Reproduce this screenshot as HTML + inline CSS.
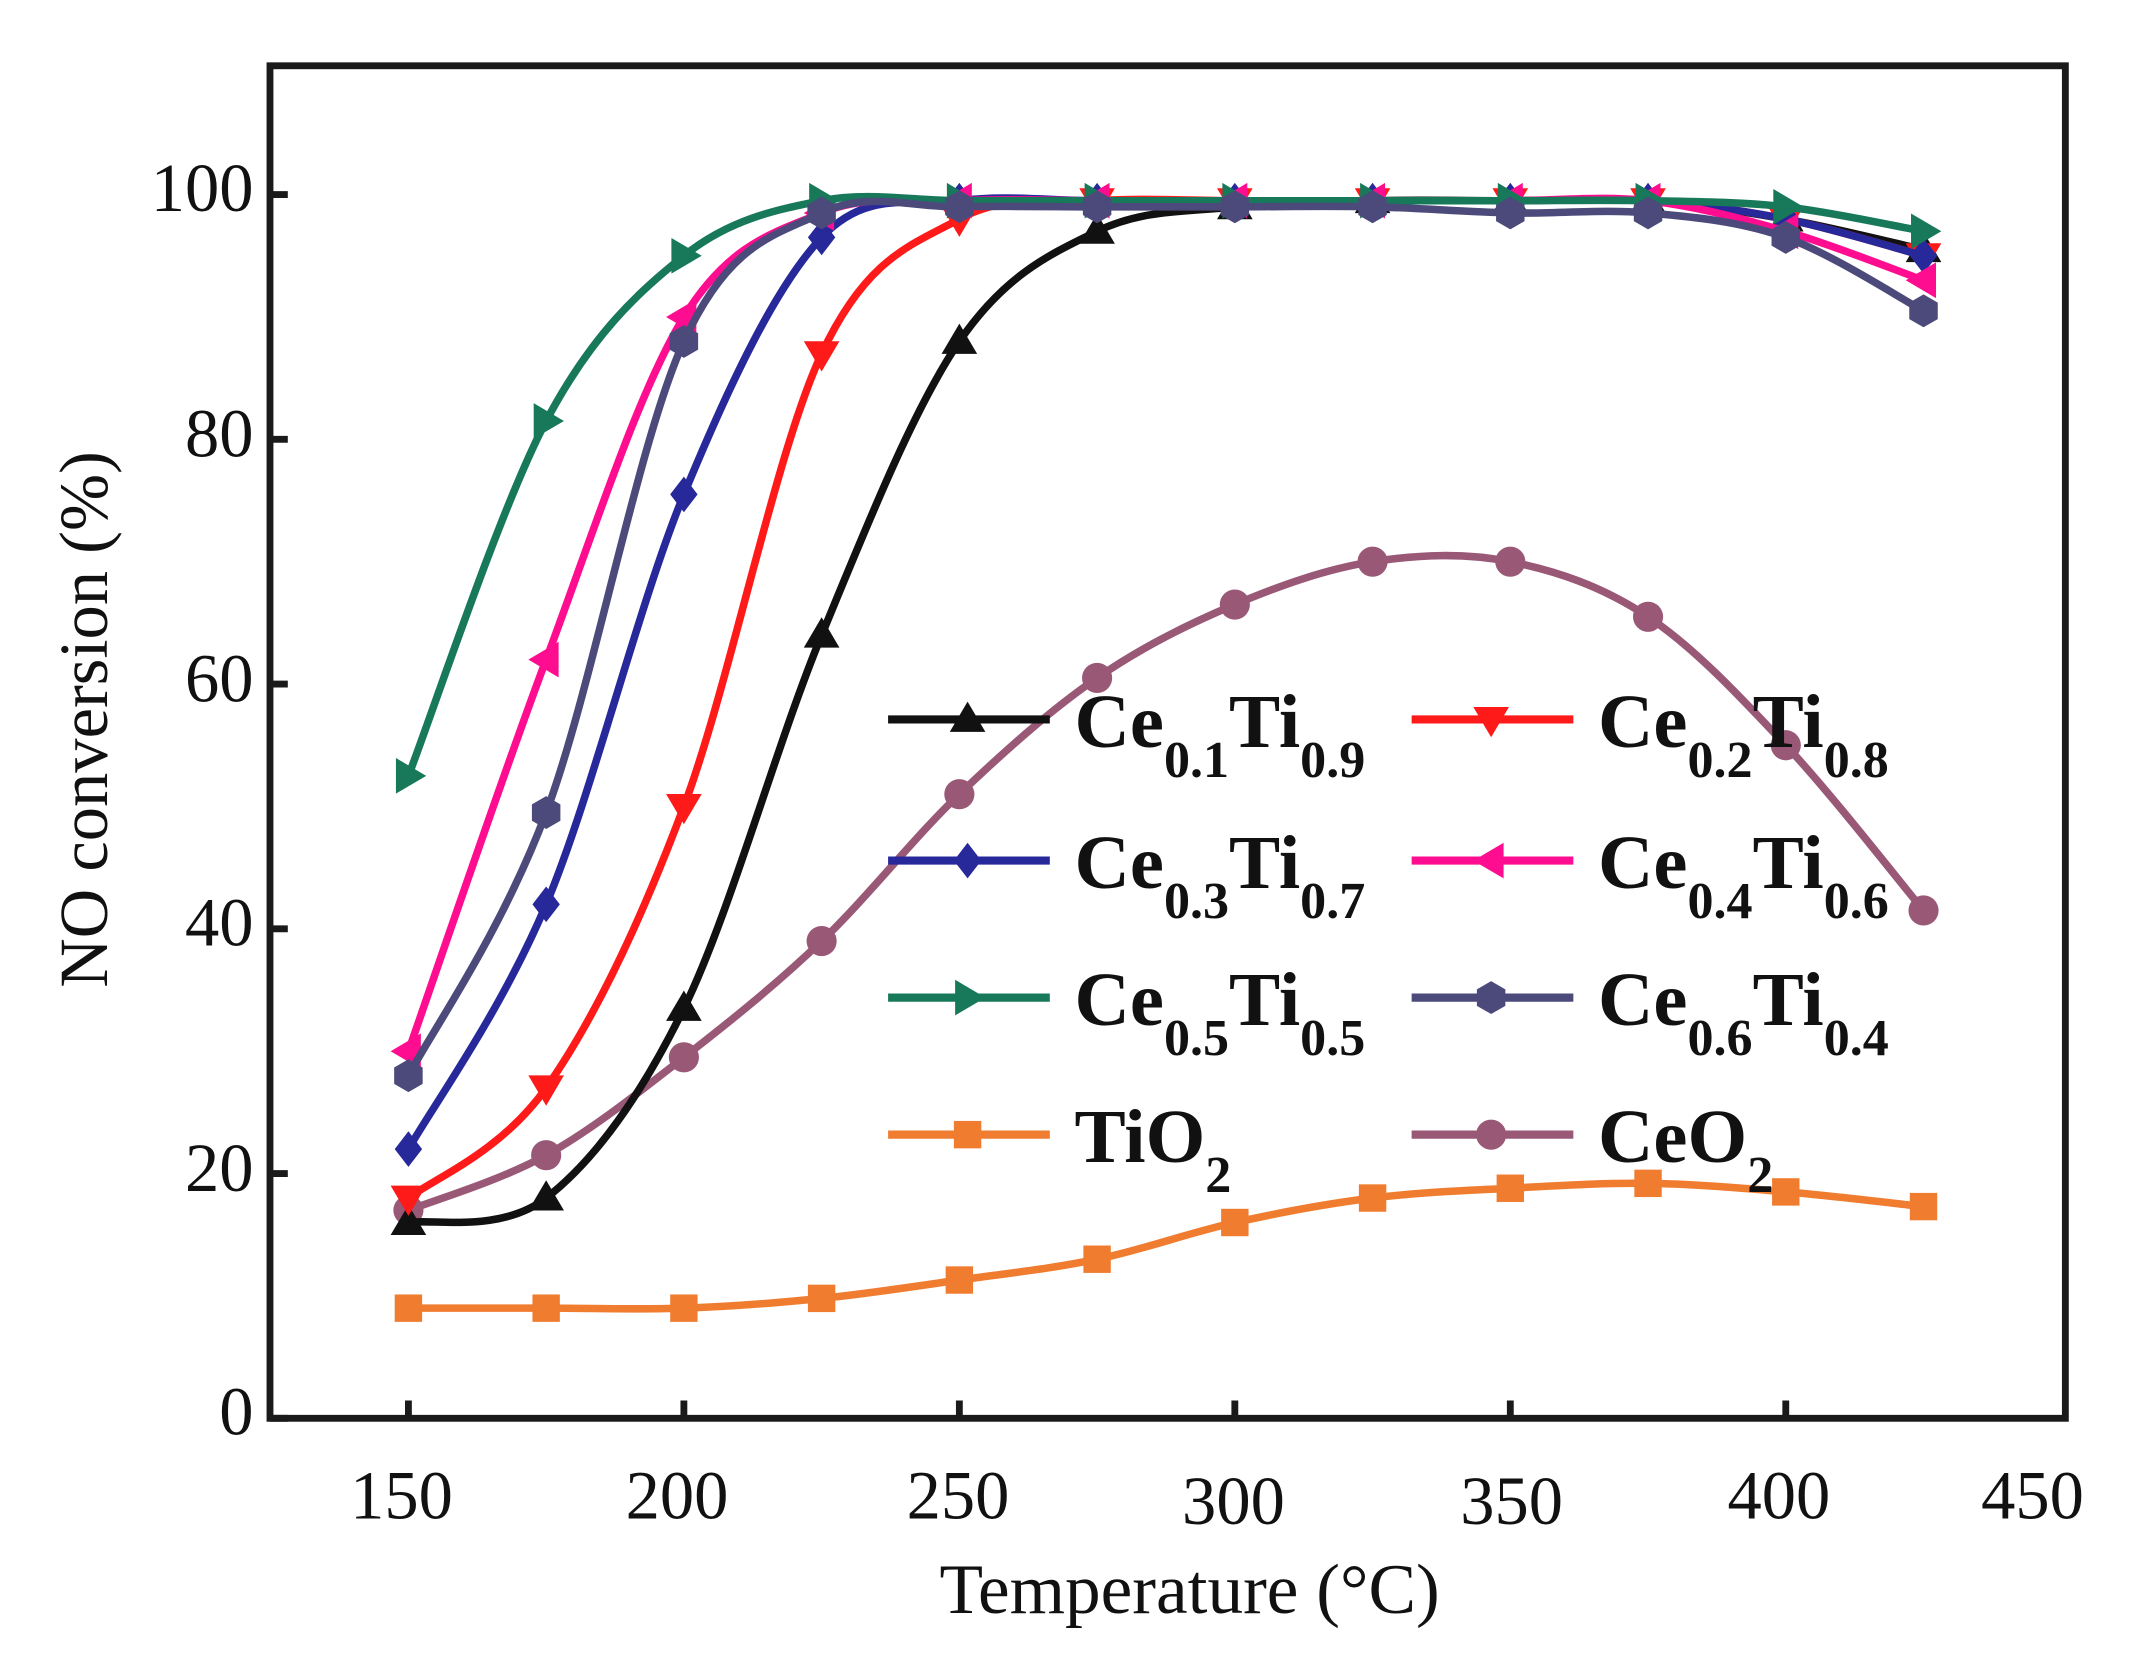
<!DOCTYPE html>
<html><head><meta charset="utf-8"><style>
html,body{margin:0;padding:0;background:#fff;}
svg{display:block;}
text{font-family:"Liberation Serif",serif;fill:#111;}
.lg{font-weight:bold;font-size:56px;}
.sb{font-weight:bold;font-size:38px;}
.tk{font-size:50px;}
</style></head><body>
<svg id="s" width="2138" height="1654" viewBox="0 0 1560 1207" preserveAspectRatio="none" xmlns="http://www.w3.org/2000/svg">
<rect x="0" y="0" width="1560" height="1207" fill="#fff"/>
<g id="series"></g>
<rect x="197" y="48" width="1310" height="987" fill="none" stroke="#1a1a1a" stroke-width="5"/>
<g id="ticks" stroke="#1a1a1a" stroke-width="5"></g>
<g class="tk" text-anchor="end">
<text x="185" y="1047">0</text><text x="185" y="869">20</text><text x="185" y="690">40</text><text x="185" y="512">60</text><text x="185" y="333">80</text><text x="185" y="154">100</text>
</g>
<g class="tk" text-anchor="middle">
<text x="293" y="1108">150</text><text x="494" y="1108">200</text><text x="699" y="1108">250</text><text x="900" y="1112">300</text><text x="1103" y="1112">350</text><text x="1298" y="1108">400</text><text x="1483" y="1108">450</text>
</g>
<text x="868" y="1177" text-anchor="middle" style="font-size:52px">Temperature (°C)</text>
<text transform="translate(78,525) rotate(-90)" text-anchor="middle" style="font-size:50px">NO conversion (%)</text>
<g id="legend"></g>
</svg>
<script>
var X=function(t){return 298+(t-150)*4.02;}, Y=function(v){return 1035-8.93*v;};
var T=[150,175,200,225,250,275,300,325,350,375,400,425];
var S=[
 {c:"#9a5877",m:"circle",d:[17,21.5,29.5,39,51,60.5,66.5,70,70,65.5,55,41.5]},
 {c:"#f07c30",m:"square",d:[9,9,9,9.8,11.3,13,16,18,18.8,19.2,18.5,17.3]},
 {c:"#111",m:"up",d:[16,18,33.5,64,88,97,99,99.5,99.5,99.5,98,95.5]},
 {c:"#ff1a1a",m:"down",d:[18,27,50,87,98,99.5,99.5,99.5,99.5,99.5,98,95]},
 {c:"#27299a",m:"diamond",d:[22,42,75.5,96.5,99.5,99.5,99.5,99.5,99.5,99.5,98,95]},
 {c:"#ff0d90",m:"left",d:[30,62,90,98.5,99.5,99.5,99.5,99.5,99.5,99.5,97,93]},
 {c:"#18785a",m:"right",d:[52.5,81.5,95,99.5,99.5,99.5,99.5,99.5,99.5,99.5,99,97]},
 {c:"#4c4a7a",m:"hex",d:[28,49.5,88,98.5,99,99,99,99,98.5,98.5,96.5,90.5]}
];
function mk(m,x,y,c){var r=13;
 if(m=="circle")return '<circle cx="'+x+'" cy="'+y+'" r="11" fill="'+c+'"/>';
 if(m=="square")return '<rect x="'+(x-10)+'" y="'+(y-10)+'" width="20" height="20" fill="'+c+'"/>';
 var p;
 if(m=="up")p=[[x,y-r],[x+r,y+r*0.7],[x-r,y+r*0.7]];
 if(m=="down")p=[[x,y+r],[x+r,y-r*0.7],[x-r,y-r*0.7]];
 if(m=="left")p=[[x-r,y],[x+r*0.7,y-r],[x+r*0.7,y+r]];
 if(m=="right")p=[[x+r,y],[x-r*0.7,y-r],[x-r*0.7,y+r]];
 if(m=="diamond")p=[[x,y-r],[x+10,y],[x,y+r],[x-10,y]];
 if(m=="hex"){p=[];for(var i=0;i<6;i++){var a=Math.PI/3*i+Math.PI/6;p.push([x+12*Math.cos(a),y+12*Math.sin(a)]);}}
 return '<polygon points="'+p.map(function(q){return q.join(',')}).join(' ')+'" fill="'+c+'"/>';}
var h='';
S.forEach(function(s){
 var P=T.map(function(t,i){return [X(t),Y(s.d[i])];});
 var d='M'+P[0][0]+','+P[0][1];
 for(var i=0;i<P.length-1;i++){var p0=P[Math.max(0,i-1)],p1=P[i],p2=P[i+1],p3=P[Math.min(P.length-1,i+2)];
  d+=' C'+(p1[0]+(p2[0]-p0[0])/6)+','+(p1[1]+(p2[1]-p0[1])/6)+' '+(p2[0]-(p3[0]-p1[0])/6)+','+(p2[1]-(p3[1]-p1[1])/6)+' '+p2[0]+','+p2[1];}
 h+='<path d="'+d+'" fill="none" stroke="'+s.c+'" stroke-width="5.5"/>';
 P.forEach(function(p){h+=mk(s.m,p[0],p[1],s.c);});
});
document.getElementById('series').innerHTML=h;
var t='';
[150,200,250,300,350,400].forEach(function(v){var x=X(v);t+='<line x1="'+x+'" y1="1035" x2="'+x+'" y2="1022"/>';});
[0,20,40,60,80,100].forEach(function(v){var y=Y(v);t+='<line x1="197" y1="'+y+'" x2="210" y2="'+y+'"/>';});
document.getElementById('ticks').innerHTML=t;
var L=[[2,0,0,'Ce','0.1','Ti','0.9'],[3,1,0,'Ce','0.2','Ti','0.8'],[4,0,1,'Ce','0.3','Ti','0.7'],[5,1,1,'Ce','0.4','Ti','0.6'],[6,0,2,'Ce','0.5','Ti','0.5'],[7,1,2,'Ce','0.6','Ti','0.4'],[1,0,3,'TiO','2'],[0,1,3,'CeO','2']];
var g='';
L.forEach(function(l){var s=S[l[0]];var x0=l[1]?1030:648;var y=[525,628,728,828][l[2]];
 g+='<line x1="'+x0+'" y1="'+y+'" x2="'+(x0+118)+'" y2="'+y+'" stroke="'+s.c+'" stroke-width="6"/>'+mk(s.m,x0+58,y,s.c);
 var tx=x0+136;
 if(l.length==7){g+='<text x="'+tx+'" y="'+(y+20)+'"><tspan class="lg">'+l[3]+'</tspan><tspan class="sb" dy="22" textLength="0">'+l[4]+'</tspan><tspan class="lg" dy="-22">'+l[5]+'</tspan><tspan class="sb" dy="22">'+l[6]+'</tspan></text>';}
 else{g+='<text x="'+tx+'" y="'+(y+20)+'"><tspan class="lg">'+l[3]+'</tspan><tspan class="sb" dy="22">'+l[4]+'</tspan></text>';}
});
document.getElementById('legend').innerHTML=g;
</script>
</body></html>
